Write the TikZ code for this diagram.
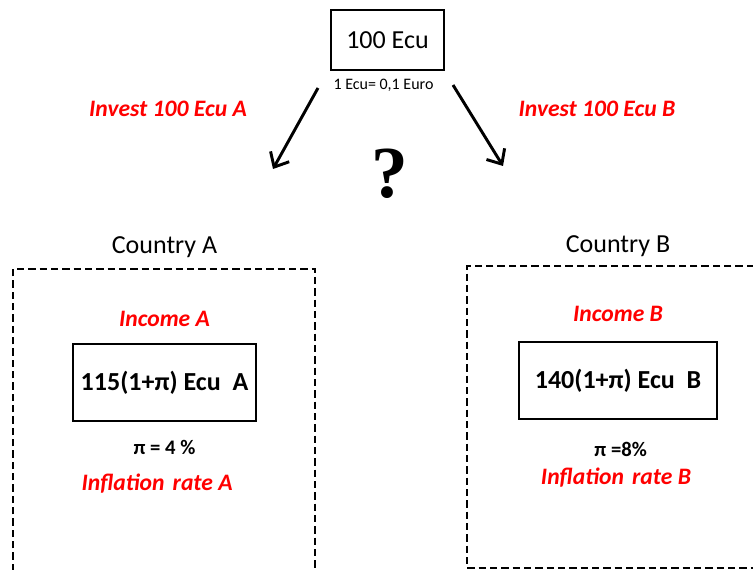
\documentclass[tikz,border=0pt]{standalone}
\usepackage{fontspec}
\setmainfont{Carlito}
\newfontfamily\qfont{Liberation Serif}
\usetikzlibrary{arrows.meta,positioning}

\begin{document}
\begin{tikzpicture}
  [x=0.75pt,y=-0.75pt,on grid,>={Straight Barb[length=9pt,width=16pt]},
   box/.style={draw,line width=1.3pt,inner sep=0pt},
   amount/.style={box,minimum height=57.75pt,font=\fontsize{19.5}{22}\selectfont\bfseries},
   red label/.style={red,font=\fontsize{17.7}{20}\selectfont\bfseries\itshape},
   country/.style={font=\fontsize{19.5}{22}\selectfont},
   rate/.style={font=\fontsize{15.5}{18}\selectfont\bfseries},
   region/.style={dash pattern=on 5.5pt off 3pt,line width=1.1pt},
   move/.style={->,line width=2.2pt}]

  \useasboundingbox (0,0) rectangle (753,570);

  % the amount to invest
  \node [box,minimum width=84.75pt,minimum height=45pt,font=\fontsize{19.5}{22}\selectfont]
        (ecu) at (387.5,40) {100 Ecu};
  \node [font=\fontsize{12}{14}\selectfont] (parity) [below=33.75pt of ecu,xshift=-3pt] {1 Ecu= 0,1 Euro};
  \node [font=\qfont\fontsize{55}{60}\selectfont\bfseries] (doubt) at (390,174) {?};

  \node [red label] (investA) at (168,109) {Invest 100 Ecu A};
  \node [red label] (investB) at (597,109) {Invest 100 Ecu B};

  \coordinate (fromA) at (318,88);
  \coordinate (toA)   at (273,169);
  \coordinate (fromB) at (453,85);
  \coordinate (toB)   at (503,166);
  \draw [move] (fromA) -- (toA);
  \draw [move] (fromB) -- (toB);

  % country A
  \node [amount,minimum width=137.25pt] (boxA) at (164.5,382.5) {115(1+π) Ecu~~A};
  \node [red label] (incomeA)  [above=47.6pt of boxA]            {Income A};
  \node [country]   (countryA) [above=54.2pt of incomeA]         {Country A};
  \node [rate]      (piA)      [below=48.75pt of boxA]           {π = 4 \%};
  \node [red label] (inflA)    [below=27.4pt of piA,xshift=-5.5pt] {Inflation\hspace{0.12em} rate A};
  \draw [region] (13,571) |- (315,269) -- (315,571);

  % country B
  \node [amount,minimum width=148.5pt] (boxB) at (618,380.7) {140(1+π) Ecu~~B};
  \node [red label] (incomeB)  [above=49.9pt of boxB]            {Income B};
  \node [country]   (countryB) [above=50.8pt of incomeB]         {Country B};
  \node [rate]      (piB)      [below=51.75pt of boxB,xshift=2pt] {π =8\%};
  \node [red label] (inflB)    [below=21pt of piB,xshift=-3.5pt]  {Inflation\hspace{0.12em} rate B};
  \draw [region] (754,266) -| (467,568) -- (754,568);
\end{tikzpicture}
\end{document}
